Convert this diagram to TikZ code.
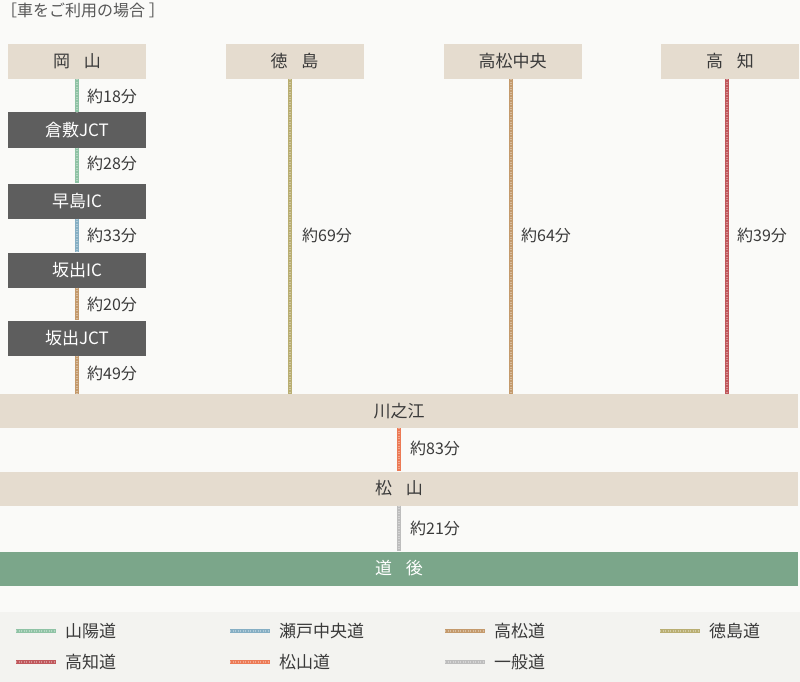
\documentclass[tikz,border=0pt]{standalone}
\usepackage{fontspec}
\setmainfont{Noto Sans CJK JP}

\definecolor{paper}{HTML}{FAFAF8}
\definecolor{legendbg}{HTML}{F3F3F0}
\definecolor{beige}{HTML}{E5DCCF}
\definecolor{slate}{HTML}{5E5E5E}
\definecolor{dogogreen}{HTML}{7BA68A}
\definecolor{ink}{HTML}{3A3A3A}
\definecolor{sanyo}{HTML}{8FC3A5}
\definecolor{seto}{HTML}{86AFC4}
\definecolor{takamatsudo}{HTML}{C49A6C}
\definecolor{tokushimado}{HTML}{B9AE72}
\definecolor{kochido}{HTML}{C0585C}
\definecolor{matsuyamado}{HTML}{EC7A55}
\definecolor{ippan}{HTML}{BDBDBD}

\begin{document}
\begin{tikzpicture}[x=1pt,y=-1pt]
\tikzstyle{station}=[fill=beige, text=ink, minimum width=138pt, minimum height=35pt, inner sep=0pt, font=\fontsize{17}{17}\selectfont]
\tikzstyle{junction}=[station, fill=slate, text=white]
\tikzstyle{band}=[station, minimum width=798pt, minimum height=34pt]
\tikzstyle{time}=[anchor=west, text=ink, inner sep=0pt, font=\fontsize{16}{16}\selectfont]
\tikzstyle{road}=[line width=4pt, postaction={draw=white, draw opacity=.35, line width=1.4pt, dash pattern=on 1pt off 1.5pt}]

\useasboundingbox (0,0) rectangle (800,682);
\fill[paper] (0,0) rectangle (800,682);
\fill[legendbg] (0,612) rectangle (800,682);

\node[anchor=west, text=ink!85, inner sep=0pt, font=\fontsize{16}{16}\selectfont] (title) at (1,10) {［車をご利用の場合 ］};

% start stations
\node[station] (okayama) at (77,61.5) {岡\hspace{.8em}山};
\node[station] (tokushima) at (294.5,61.5) {徳\hspace{.8em}島};
\node[station] (takamatsu) at (512.5,61.5) {高松中央};
\node[station] (kochi) at (730,61.5) {高\hspace{.8em}知};

% junctions from okayama
\node[junction] (kurashiki) at (77,130) {倉敷JCT};
\node[junction] (hayashima) at (77,201) {早島IC};
\node[junction] (sakaideic) at (77,270) {坂出IC};
\node[junction] (sakaidejct) at (77,338) {坂出JCT};

% bands
\node[band] (kawanoe) at (399,411) {川之江};
\node[band] (matsuyama) at (399,488.5) {松\hspace{.8em}山};
\node[band, fill=dogogreen, text=white] (dogo) at (399,568.5) {道\hspace{.8em}後};

\path
(okayama) edge[road, draw=sanyo] (kurashiki)
(kurashiki) edge[road, draw=sanyo] (hayashima)
(hayashima) edge[road, draw=seto] (sakaideic)
(sakaideic) edge[road, draw=takamatsudo] (sakaidejct)
(sakaidejct) edge[road, draw=takamatsudo] (sakaidejct |- kawanoe.north)
([xshift=-4.5]tokushima.south) edge[road, draw=tokushimado] ([xshift=-4.5]tokushima.south |- kawanoe.north)
([xshift=-1.5]takamatsu.south) edge[road, draw=takamatsudo] ([xshift=-1.5]takamatsu.south |- kawanoe.north)
([xshift=-3]kochi.south) edge[road, draw=kochido] ([xshift=-3]kochi.south |- kawanoe.north)
(kawanoe) edge[road, draw=matsuyamado] (matsuyama)
(matsuyama) edge[road, draw=ippan] (dogo);

% times
\node[time] (t1) at (87,96) {約18分};
\node[time] (t2) at (87,163) {約28分};
\node[time] (t3) at (87,235) {約33分};
\node[time] (t4) at (87,304) {約20分};
\node[time] (t5) at (87,373) {約49分};
\node[time] (t6) at (302,235) {約69分};
\node[time] (t7) at (521,235) {約64分};
\node[time] (t8) at (737,235) {約39分};
\node[time] (t9) at (410,448) {約83分};
\node[time] (t10) at (410,528) {約21分};

% legend
\foreach \x/\y/\c/\t in {16/631/sanyo/山陽道, 230/631/seto/瀬戸中央道, 445/631/takamatsudo/高松道, 660/631/tokushimado/徳島道, 16/662/kochido/高知道, 230/662/matsuyamado/松山道, 445/662/ippan/一般道}
{
\draw[road, draw=\c] (\x,\y) -- ++(40,0);
\node[time, font=\fontsize{17}{17}\selectfont] at (\x+49,\y) {\t};
}
\end{tikzpicture}
\end{document}
